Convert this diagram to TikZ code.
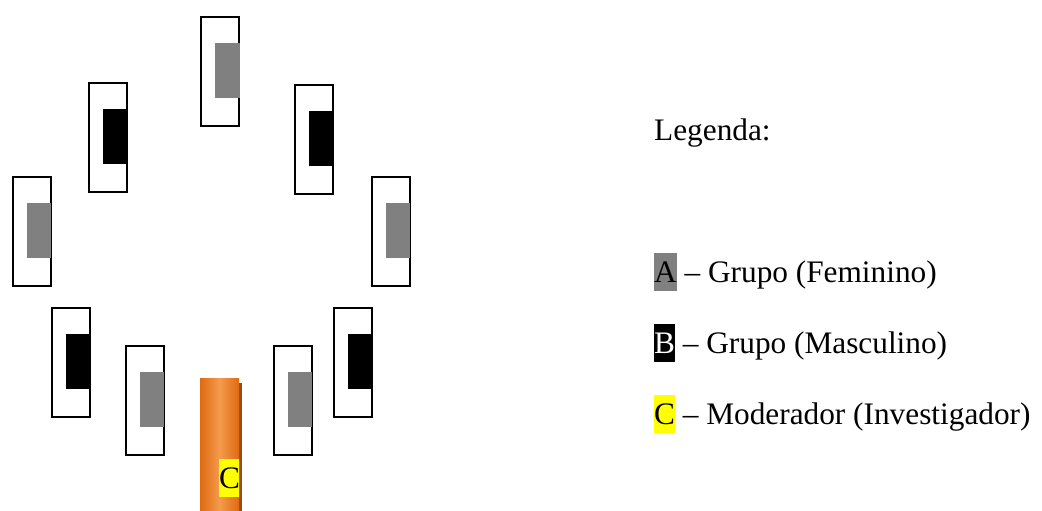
\documentclass[tikz,border=0pt]{standalone}
\usepackage{fontspec}
\setmainfont{Liberation Serif}
\definecolor{grayfill}{HTML}{808080}
\definecolor{orangeout}{HTML}{DF6A12}
\definecolor{orangein}{HTML}{F59B4C}
\definecolor{orangeshadow}{HTML}{9C4A10}
\definecolor{hlyellow}{HTML}{FFFF00}
\newcommand\hlbox[2]{{\setlength\fboxsep{0pt}\colorbox{#1}{\rule[-9pt]{0pt}{38pt}#2}}}
\tikzset{
  seat/.style={draw=black, line width=2pt, fill=white, minimum width=38pt, minimum height=109pt, inner sep=0pt, anchor=north west},
  legendtext/.style={inner sep=0pt, anchor=base west, font=\fontsize{31.3}{38}\selectfont},
}
\newcommand\seatat[4]{%
  \node[seat] (#1) at (#2,#3) {};
  \fill[#4] ([xshift=15pt,yshift=-27pt]#1.north west) rectangle ([xshift=39.5pt,yshift=-82pt]#1.north west);
}
\begin{document}
\begin{tikzpicture}[x=1pt,y=-1pt]
\useasboundingbox (0,0) rectangle (1042,511);
% seats
\seatat{s1}{200}{16}{grayfill}
\seatat{s2}{88}{82}{black}
\seatat{s3}{294}{84}{black}
\seatat{s4}{11.5}{175.5}{grayfill}
\seatat{s5}{370.5}{175.5}{grayfill}
\seatat{s6}{50.5}{306.5}{black}
\seatat{s7}{332.5}{306.5}{black}
\seatat{s8}{124.5}{344.5}{grayfill}
\seatat{s9}{272.5}{344.5}{grayfill}
% moderator
\fill[orangeshadow] (203,383) rectangle (242,511);
\shade[left color=orangeout, right color=orangeout, middle color=orangein] (200,378) rectangle (239,511);
\begin{scope}
\clip (200,378) rectangle (239,511);
\node[legendtext] (cmod) at (219,488) {\hlbox{hlyellow}{C}};
\end{scope}
% legend
\node[legendtext] (leg) at (654,140) {Legenda:};
\node[legendtext] (la) at (654,282) {\hlbox{grayfill}{A} – Grupo (Feminino)};
\node[legendtext] (lb) at (654,353) {\hlbox{black}{\textcolor{white}{B}} – Grupo (Masculino)};
\node[legendtext] (lc) at (654,424) {\hlbox{hlyellow}{C} – Moderador (Investigador)};
\end{tikzpicture}
\end{document}
